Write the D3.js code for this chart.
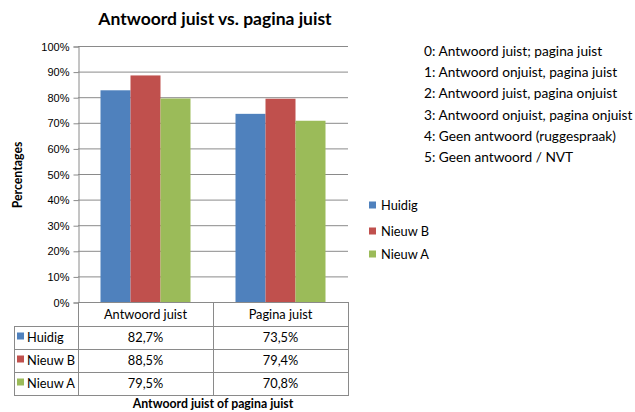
<!DOCTYPE html>
<html><head><meta charset="utf-8">
<script src="https://cdn.jsdelivr.net/npm/d3@7"></script>
<style>body{margin:0;background:#fff}svg{display:block}</style>
</head><body>
<script>
const categories = ["Antwoord juist", "Pagina juist"];
const seriesNames = ["Huidig", "Nieuw B", "Nieuw A"];
const huidig = [82.7, 73.5];
const nieuwB = [88.5, 79.4];
const nieuwA = [79.5, 70.8];
const seriesValues = [huidig, nieuwB, nieuwA];
const valueLabels = [["82,7%", "73,5%"], ["88,5%", "79,4%"], ["79,5%", "70,8%"]];
const yTicks = [0, 10, 20, 30, 40, 50, 60, 70, 80, 90, 100];
const notes = ["0: Antwoord juist; pagina juist", "1: Antwoord onjuist, pagina juist",
  "2: Antwoord juist, pagina onjuist", "3: Antwoord onjuist, pagina onjuist",
  "4: Geen antwoord (ruggespraak)", "5: Geen antwoord / NVT"];
const colors = ["#4F81BD", "#C0504D", "#9BBB59"];

const W = 635, H = 412;
const svg = d3.select("body").append("svg").attr("width", W).attr("height", H);
const font = "Lato, 'Open Sans', sans-serif";
const x0 = 78, x1 = 348, yTop = 46, yBot = 302;

const x = d3.scaleBand().domain(categories).range([x0, x1]);
const xs = d3.scaleBand().domain(seriesNames).range([0, x.bandwidth()]).paddingOuter(0.75).paddingInner(0);
const y = d3.scaleLinear().domain([0, 100]).range([yBot, yTop]);

// title
svg.append("text").attr("x", 215).attr("y", 25).attr("text-anchor", "middle")
  .attr("font-family", font).attr("font-weight", "bold").attr("font-size", 17.5).text("Antwoord juist vs. pagina juist");

// gridlines
svg.append("g").selectAll("line").data(yTicks.filter(d => d > 0)).join("line")
  .attr("x1", x0).attr("x2", x1).attr("y1", d => y(d) + 0.5).attr("y2", d => y(d) + 0.5)
  .attr("stroke", "#8a8a8a").attr("stroke-width", 1);

// y axis
const yAxis = d3.axisLeft(y).tickValues(yTicks).tickFormat(d => d + "%").tickSize(5).tickPadding(4);
const gy = svg.append("g").attr("transform", `translate(${x0 + 0.5},0.5)`).call(yAxis);
gy.select(".domain").attr("stroke", "#8a8a8a");
gy.selectAll(".tick line").attr("stroke", "#8a8a8a");
gy.selectAll("text").attr("font-family", "'Liberation Sans', Arial, sans-serif").attr("font-size", 11).attr("fill", "#000");

// bars
svg.append("g").selectAll("g").data(seriesValues).join("g").attr("fill", (d, i) => colors[i])
  .each(function(vals, si) {
    d3.select(this).selectAll("rect").data(vals).join("rect")
      .attr("x", (v, ci) => x(categories[ci]) + xs(seriesNames[si]))
      .attr("width", xs.bandwidth())
      .attr("y", v => y(v))
      .attr("height", v => y(0) - y(v));
  });

// baseline
svg.append("line").attr("x1", x0).attr("x2", x1).attr("y1", yBot + 0.5).attr("y2", yBot + 0.5).attr("stroke", "#8a8a8a");

// data table
const rowH = 23;
const hdrBot = 326;
const tLeft = 14;
const rowTops = seriesNames.map((s, i) => hdrBot + i * rowH);
const tableBottom = hdrBot + seriesNames.length * rowH;
const tg = svg.append("g").attr("stroke", "#8a8a8a").attr("fill", "none");
tg.append("line").attr("x1", x0 + 0.5).attr("x2", x0 + 0.5).attr("y1", yBot).attr("y2", tableBottom + 0.5);
tg.append("line").attr("x1", x1 + 0.5).attr("x2", x1 + 0.5).attr("y1", yBot).attr("y2", tableBottom + 0.5);
tg.append("line").attr("x1", x(categories[1]) + 0.5).attr("x2", x(categories[1]) + 0.5).attr("y1", yBot).attr("y2", tableBottom + 0.5);
tg.append("line").attr("x1", tLeft + 0.5).attr("x2", tLeft + 0.5).attr("y1", hdrBot).attr("y2", tableBottom + 0.5);
[hdrBot, ...rowTops.slice(1), tableBottom].forEach(yy => {
  tg.append("line").attr("x1", tLeft).attr("x2", x1 + 1).attr("y1", yy + 0.5).attr("y2", yy + 0.5);
});
svg.append("g").selectAll("text").data(categories).join("text")
  .attr("x", d => x(d) + x.bandwidth() / 2).attr("y", 319).attr("text-anchor", "middle")
  .attr("font-family", font).attr("font-size", 12.8).text(d => d);
seriesNames.forEach((s, i) => {
  const ty = rowTops[i] + rowH / 2;
  svg.append("rect").attr("x", 17).attr("y", ty - 5).attr("width", 7).attr("height", 7).attr("fill", colors[i]);
  svg.append("text").attr("x", 27).attr("y", ty + 4.5).attr("font-family", font).attr("font-size", 12.8).text(s);
  categories.forEach((c, ci) => {
    svg.append("text").attr("x", x(c) + x.bandwidth() / 2).attr("y", ty + 4.5).attr("text-anchor", "middle")
      .attr("font-family", font).attr("font-size", 12.8).text(valueLabels[i][ci]);
  });
});

// x axis title
svg.append("text").attr("x", 213).attr("y", 408).attr("text-anchor", "middle")
  .attr("font-family", font).attr("font-weight", "bold").attr("font-size", 12.3).text("Antwoord juist of pagina juist");

// y axis title
svg.append("text").attr("transform", "translate(22,175) rotate(-90)").attr("text-anchor", "middle")
  .attr("font-family", font).attr("font-weight", "bold").attr("font-size", 12.3).text("Percentages");

// legend
const legY = [205, 231, 254];
seriesNames.forEach((s, i) => {
  svg.append("rect").attr("x", 369).attr("y", legY[i] - 3.5).attr("width", 7).attr("height", 7).attr("fill", colors[i]);
  svg.append("text").attr("x", 381).attr("y", legY[i] + 4.5).attr("font-family", font).attr("font-size", 12.8).text(s);
});

// notes
svg.append("g").selectAll("text").data(notes).join("text")
  .attr("x", 424).attr("y", (d, i) => 56 + i * 21.2)
  .attr("font-family", font).attr("font-size", 13.7).text(d => d);
</script>
</body></html>
